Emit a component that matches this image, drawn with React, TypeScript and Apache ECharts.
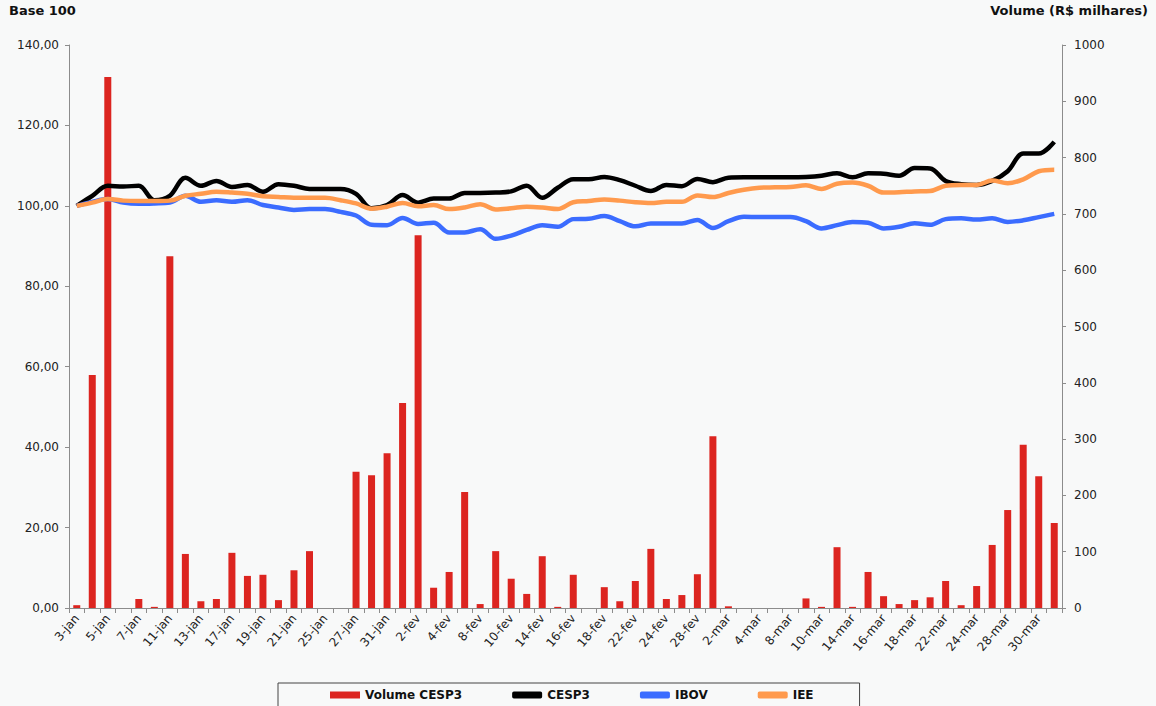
import React, { useEffect, useRef } from "react";
import * as echarts from "echarts";

const categories = [
  "3-jan", "4-jan", "5-jan", "6-jan", "7-jan", "10-jan", "11-jan", "12-jan", "13-jan", "14-jan",
  "17-jan", "18-jan", "19-jan", "20-jan", "21-jan", "24-jan", "25-jan", "26-jan", "27-jan", "28-jan",
  "31-jan", "1-fev", "2-fev", "3-fev", "4-fev", "7-fev", "8-fev", "9-fev", "10-fev", "11-fev",
  "14-fev", "15-fev", "16-fev", "17-fev", "18-fev", "21-fev", "22-fev", "23-fev", "24-fev", "25-fev",
  "28-fev", "1-mar", "2-mar", "3-mar", "4-mar", "7-mar", "8-mar", "9-mar", "10-mar", "11-mar",
  "14-mar", "15-mar", "16-mar", "17-mar", "18-mar", "21-mar", "22-mar", "23-mar", "24-mar", "25-mar",
  "28-mar", "29-mar", "30-mar", "31-mar",
];

const volumeCESP3 = [
  5, 414, 943, 0, 16, 2, 625, 96, 12, 16,
  98, 57, 59, 14, 67, 101, 0, 0, 242, 236,
  275, 364, 662, 36, 64, 206, 7, 101, 52, 25,
  92, 2, 59, 0, 37, 12, 48, 105, 16, 23,
  60, 305, 3, 0, 0, 0, 0, 17, 2, 108,
  2, 64, 21, 7, 14, 19, 48, 5, 39, 112,
  174, 290, 234, 151,
];

const cesp3 = [
  100, 102.5, 105, 104.8, 105, 101.4, 102.5, 107, 105, 106.2,
  104.7, 105.2, 103.5, 105.4, 105, 104.2, 104.2, 104.2, 103, 99.4,
  100.2, 102.7, 100.8, 101.8, 101.8, 103.2, 103.2, 103.3, 103.6, 105,
  102, 104.5, 106.6, 106.6, 107.2, 106.4, 105, 103.7, 105.2, 104.9,
  106.7, 105.9, 107, 107.1, 107.1, 107.1, 107.1, 107.2, 107.5, 108.1,
  107.1, 108.1, 108, 107.5, 109.4, 109.3, 106.2, 105.4, 105.2, 106.2,
  108.6, 113, 113, 115.9,
];

const ibov = [
  100, 101, 101.7, 100.8, 100.5, 100.6, 100.8, 102.5, 101, 101.4,
  101, 101.4, 100.2, 99.6, 99, 99.2, 99.2, 98.5, 97.6, 95.3,
  95.2, 97, 95.5, 95.8, 93.4, 93.4, 94.2, 91.8, 92.6, 94,
  95.2, 94.8, 96.7, 96.8, 97.5, 96.2, 94.9, 95.6, 95.6, 95.6,
  96.5, 94.5, 96.2, 97.3, 97.2, 97.2, 97.2, 96.2, 94.4, 95.2,
  96, 95.8, 94.4, 94.8, 95.7, 95.3, 96.7, 96.9, 96.6, 96.9,
  96, 96.4, 97.2, 98,
];

const iee = [
  100, 100.8, 101.7, 101.3, 101.2, 101.2, 101.3, 102.5, 103, 103.5,
  103.3, 103, 102.4, 102.2, 102, 102, 102, 101.4, 100.6, 99.3,
  99.8, 100.7, 99.9, 100.2, 99.2, 99.6, 100.4, 99.1, 99.4, 99.8,
  99.6, 99.2, 100.9, 101.2, 101.6, 101.3, 100.9, 100.7, 101, 101,
  102.6, 102.2, 103.2, 104, 104.5, 104.6, 104.7, 105.1, 104.2, 105.5,
  105.8, 105, 103.3, 103.4, 103.6, 103.7, 105, 105.2, 105.2, 106.3,
  105.6, 106.6, 108.6, 109,
];

const FONT = "DejaVu Sans";

export default function App() {
  const ref = useRef<HTMLDivElement>(null);

  useEffect(() => {
    document.body.style.margin = "0";
    const chart = echarts.init(ref.current!, null, { renderer: "svg" });
    const axisLine = { show: true, lineStyle: { color: "#8c8c8c", width: 1 } };
    chart.setOption({
      animation: false,
      backgroundColor: "#f8f9f9",
      textStyle: { fontFamily: FONT },
      grid: { left: 69, right: 94, top: 45, bottom: 98, containLabel: false },
      graphic: [
        {
          type: "text",
          left: 9,
          top: 4,
          style: { text: "Base 100", font: `bold 13px '${FONT}'`, fill: "#111" },
        },
        {
          type: "text",
          right: 8,
          top: 4,
          style: { text: "Volume (R$ milhares)", font: `bold 13px '${FONT}'`, fill: "#111" },
        },
      ],
      legend: {
        left: 278,
        top: 683,
        padding: [6, 46, 20, 52],
        borderColor: "#444",
        borderWidth: 1,
        itemGap: 50,
        itemWidth: 30,
        itemHeight: 7,
        textStyle: { fontFamily: FONT, fontSize: 12, fontWeight: "bold", color: "#111" },
        data: [
          { name: "Volume CESP3", icon: "rect" },
          { name: "CESP3", icon: "roundRect" },
          { name: "IBOV", icon: "roundRect" },
          { name: "IEE", icon: "roundRect" },
        ],
      },
      xAxis: {
        type: "category",
        data: categories,
        boundaryGap: true,
        axisLine,
        axisTick: { show: true, alignWithLabel: false, interval: 0, length: 5, lineStyle: { color: "#8c8c8c" } },
        axisLabel: {
          interval: 1,
          rotate: 50,
          fontFamily: FONT,
          fontSize: 12,
          color: "#222",
          margin: 8,
        },
        splitLine: { show: false },
      },
      yAxis: [
        {
          type: "value",
          min: 0,
          max: 140,
          interval: 20,
          axisLine,
          axisTick: { show: true, length: 4, lineStyle: { color: "#8c8c8c" } },
          axisLabel: {
            fontFamily: FONT,
            fontSize: 12,
            color: "#222",
            margin: 10,
            formatter: (v: number) => v.toFixed(2).replace(".", ","),
          },
          splitLine: { show: false },
        },
        {
          type: "value",
          min: 0,
          max: 1000,
          interval: 100,
          position: "right",
          axisLine,
          axisTick: { show: true, length: 4, lineStyle: { color: "#8c8c8c" } },
          axisLabel: {
            fontFamily: FONT,
            fontSize: 12,
            color: "#222",
            margin: 12,
            formatter: (v: number) => String(v),
          },
          splitLine: { show: false },
        },
      ],
      series: [
        {
          name: "Volume CESP3",
          type: "bar",
          yAxisIndex: 1,
          data: volumeCESP3,
          barWidth: 7,
          itemStyle: { color: "#dc2520" },
        },
        {
          name: "CESP3",
          type: "line",
          yAxisIndex: 0,
          data: cesp3,
          smooth: 0.35,
          symbol: "none",
          lineStyle: { color: "#000000", width: 4.5 },
          itemStyle: { color: "#000000" },
        },
        {
          name: "IBOV",
          type: "line",
          yAxisIndex: 0,
          data: ibov,
          smooth: 0.35,
          symbol: "none",
          lineStyle: { color: "#3b6cff", width: 4.5 },
          itemStyle: { color: "#3b6cff" },
        },
        {
          name: "IEE",
          type: "line",
          yAxisIndex: 0,
          data: iee,
          smooth: 0.35,
          symbol: "none",
          lineStyle: { color: "#ff9a4d", width: 4.5 },
          itemStyle: { color: "#ff9a4d" },
        },
      ],
    });
    return () => chart.dispose();
  }, []);

  return <div ref={ref} style={{ width: 1156, height: 706 }} />;
}
